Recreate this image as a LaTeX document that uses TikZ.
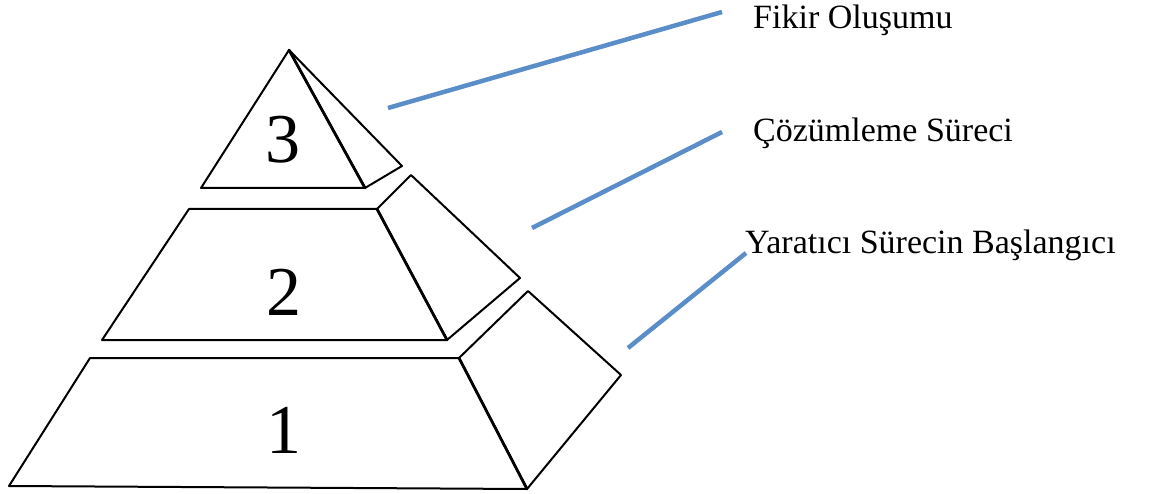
\documentclass[tikz,border=0pt]{standalone}
\usepackage{fontspec}
\setmainfont{Liberation Serif}
\definecolor{callout}{RGB}{91,141,201}
\begin{document}
\begin{tikzpicture}[x=1pt,y=-1pt,
  face/.style={draw=black,line width=2pt,line join=round,fill=white},
  edge/.style={draw=black,line width=2.8pt,line cap=round},
  callline/.style={draw=callout,line width=4.5pt},
  lbl/.style={anchor=base west,inner sep=0pt,font=\fontsize{34}{40}\selectfont},
  num/.style={inner sep=0pt,font=\fontsize{70}{80}\selectfont}]
\useasboundingbox (0,0) rectangle (1150,494);
% level 3
\draw[face] (289,50) -- (402,166) -- (365,188) -- cycle;
\draw[face] (289,50) -- (201,188) -- (365,188) -- cycle;
\draw[edge] (289,50) -- (365,188);
\node[num] (n3) at (283,140) {3};
% level 2
\draw[face] (377,209) -- (411,175) -- (520,278) -- (447,340) -- cycle;
\draw[face] (189,209) -- (377,209) -- (447,340) -- (102,340) -- cycle;
\draw[edge] (377,209) -- (447,340);
\node[num] (n2) at (284,292) {2};
% level 1
\draw[face] (459,358) -- (528,291) -- (621,375) -- (527,489) -- cycle;
\draw[face] (90,358) -- (459,358) -- (527,489) -- (9,486) -- cycle;
\draw[edge] (459,358) -- (527,489);
\node[num] (n1) at (284,430) {1};
% labels
\node[lbl] (l3) at (753,29) {Fikir Oluşumu};
\node[lbl] (l2) at (753,142) {Çözümleme Süreci};
\node[lbl] (l1) at (745,254) {Yaratıcı Sürecin Başlangıcı};
% callout lines
\coordinate (a3) at (388,108);
\coordinate (b3) at (722,12);
\coordinate (a2) at (532,228);
\coordinate (b2) at (722,132);
\coordinate (a1) at (628,348);
\coordinate (b1) at (746,253);
\draw[callline] (a3) -- (b3);
\draw[callline] (a2) -- (b2);
\draw[callline] (a1) -- (b1);
\end{tikzpicture}
\end{document}
